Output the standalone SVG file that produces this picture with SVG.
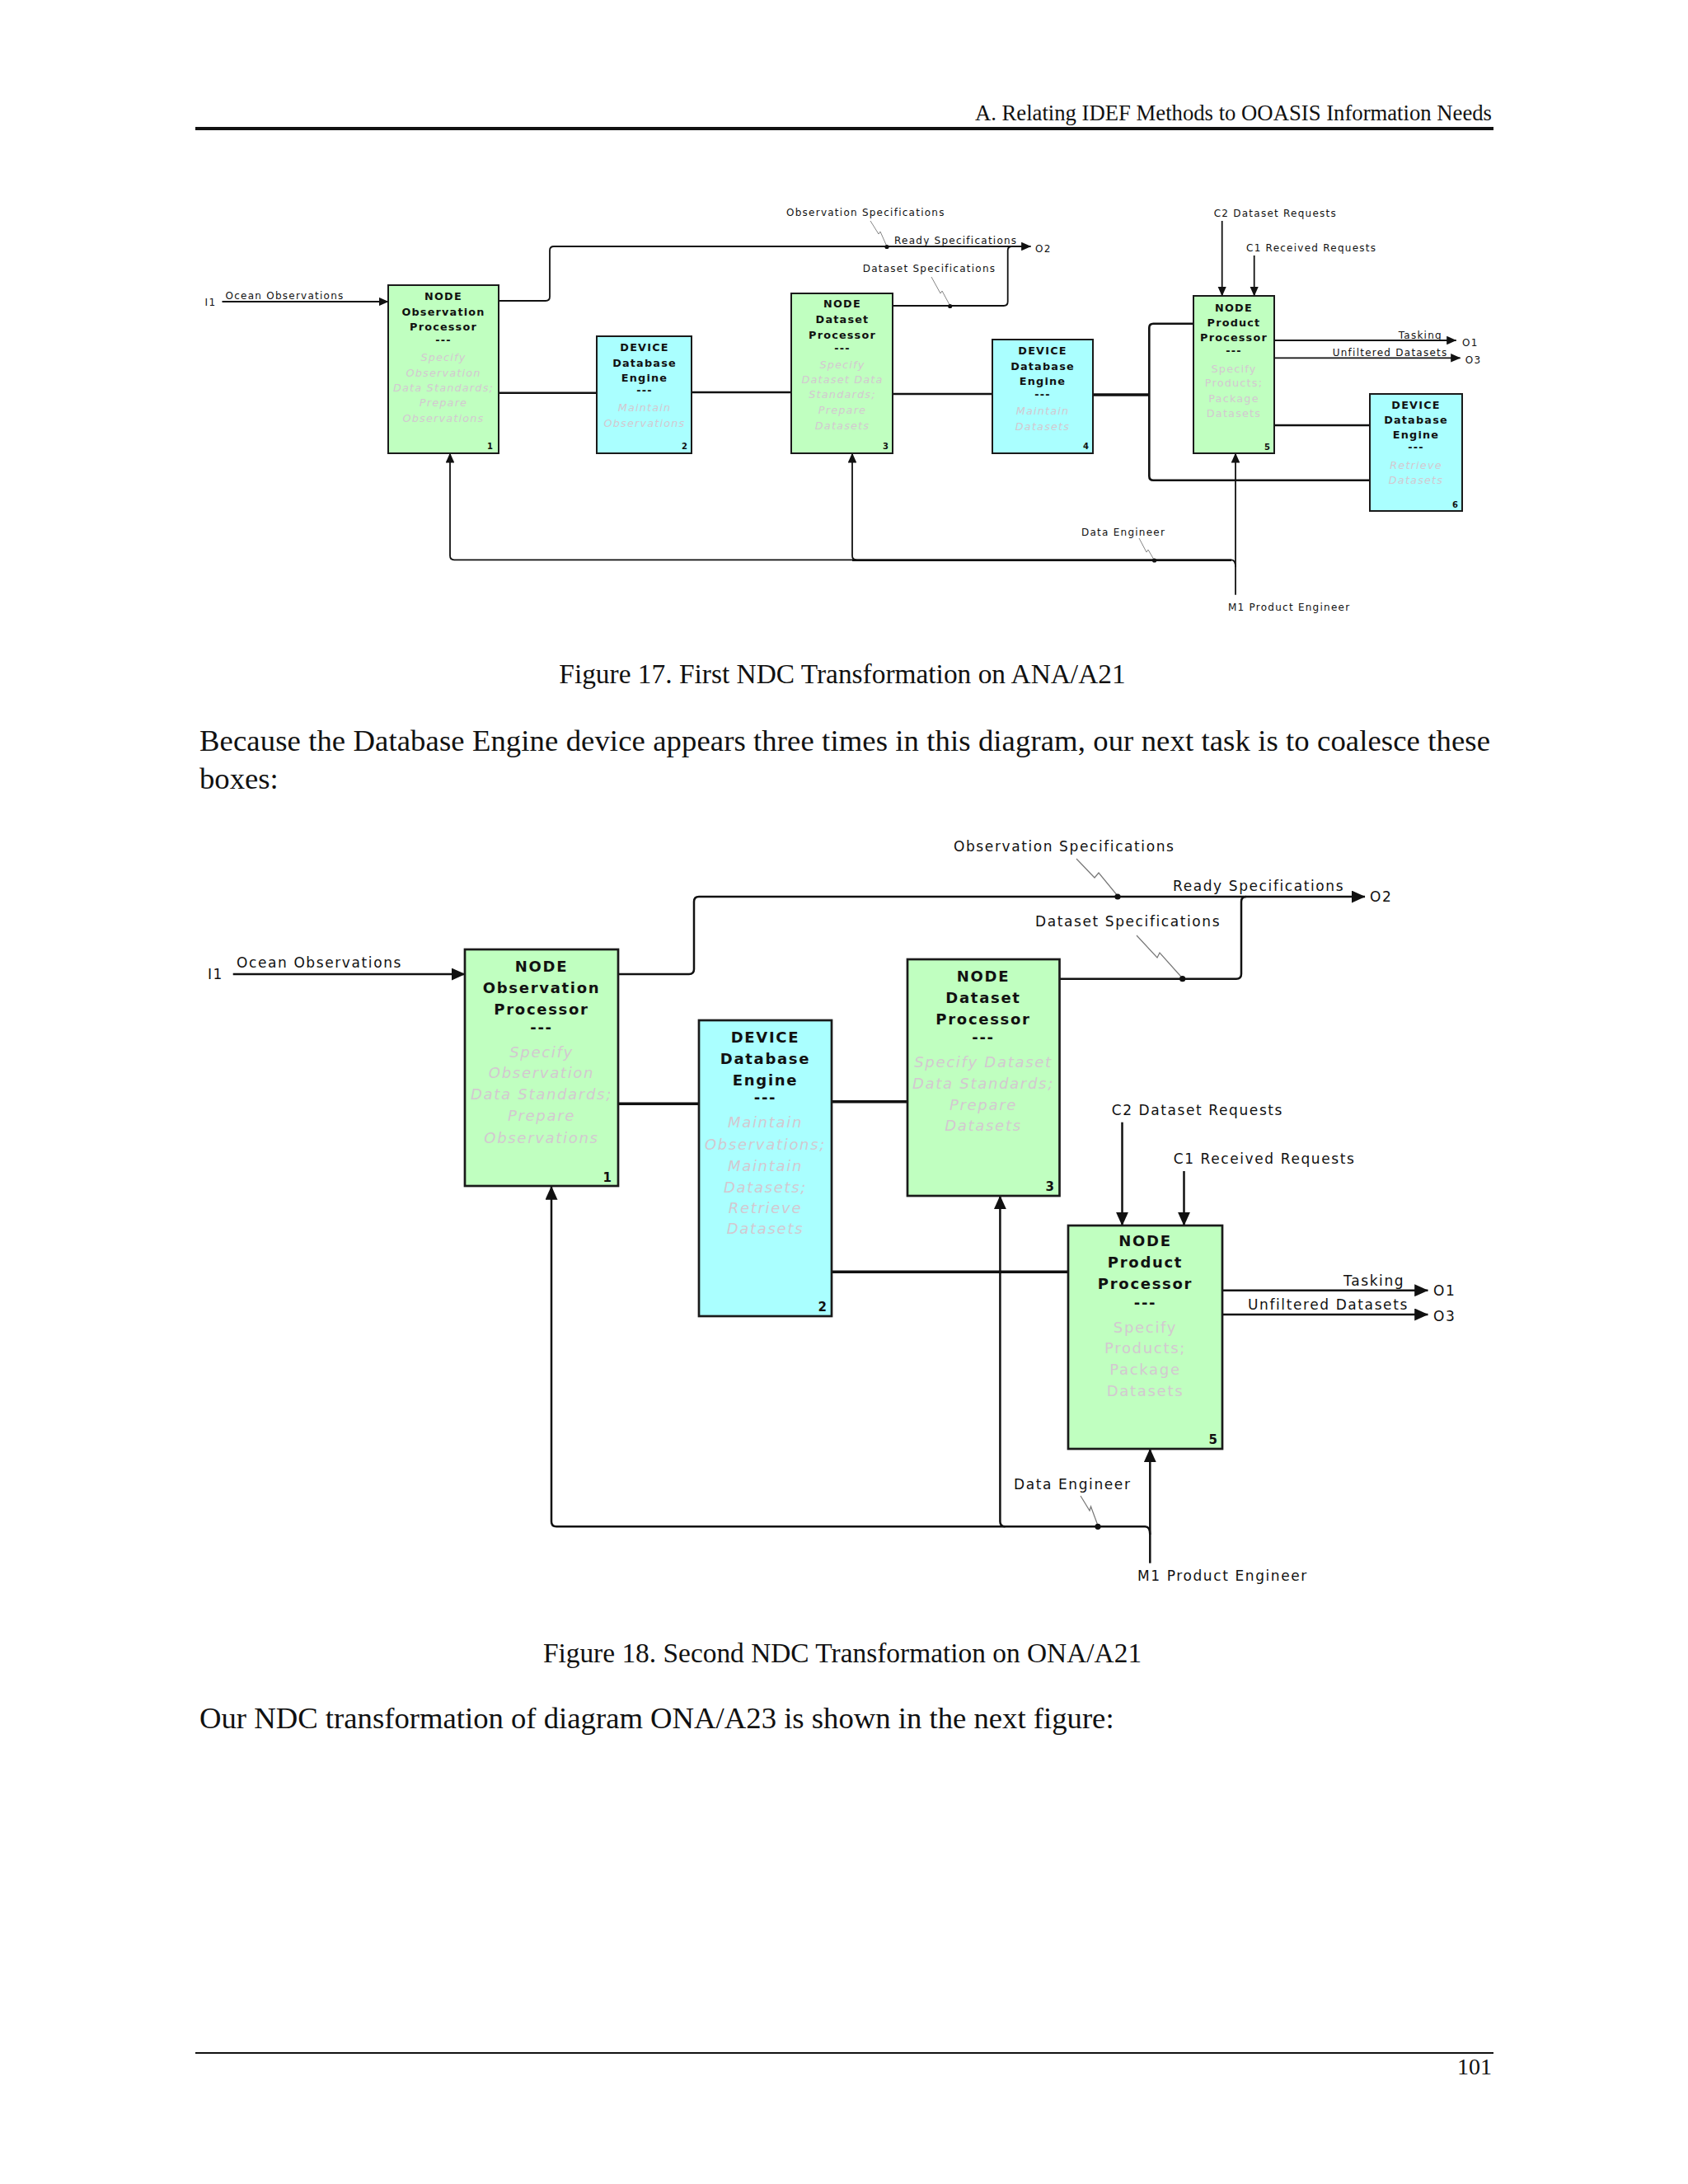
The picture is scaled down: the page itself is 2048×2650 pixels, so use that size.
<svg xmlns="http://www.w3.org/2000/svg" width="2048" height="2650" viewBox="0 0 2048 2650">
<style>
.pg{font-family:"Liberation Serif","Times New Roman",serif;fill:#111}
.lb1{font-family:"DejaVu Sans",Verdana,sans-serif;font-size:12px;letter-spacing:1.25px;fill:#111}
.lb2{font-family:"DejaVu Sans",Verdana,sans-serif;font-size:17px;letter-spacing:1.6px;fill:#111}
.t1{font-family:"DejaVu Sans",Verdana,sans-serif;font-size:12.8px;font-weight:bold;letter-spacing:1.2px;fill:#111;text-anchor:middle}
.t2{font-family:"DejaVu Sans",Verdana,sans-serif;font-size:18px;font-weight:bold;letter-spacing:1.7px;fill:#111;text-anchor:middle}
.d1{font-family:"DejaVu Sans",Verdana,sans-serif;font-size:12.8px;font-style:italic;letter-spacing:1.2px;fill:#d3c8d0;text-anchor:middle}
.d2{font-family:"DejaVu Sans",Verdana,sans-serif;font-size:18px;font-style:italic;letter-spacing:1.7px;fill:#d3c8d0;text-anchor:middle}
.up{font-style:normal}
.n1{font-family:"DejaVu Sans",Verdana,sans-serif;font-size:10px;font-weight:bold;fill:#111;text-anchor:end}
.n2{font-family:"DejaVu Sans",Verdana,sans-serif;font-size:15px;font-weight:bold;fill:#111;text-anchor:end}
.node{fill:#c0ffc0}
.dev{fill:#aaffff}
.b1{stroke:#1a1a1a;stroke-width:2}
.b2{stroke:#1a1a1a;stroke-width:2.7}
.f1{fill:none;stroke:#111;stroke-width:1.8}
.f2{fill:none;stroke:#111;stroke-width:2.5}
.c1{fill:none;stroke:#111;stroke-width:2.6}
.c2{fill:none;stroke:#111;stroke-width:3.6}
.sq1{fill:none;stroke:#777;stroke-width:0.9}
.sq2{fill:none;stroke:#777;stroke-width:1.2}
.dot{fill:#111}
</style>
<defs>
<marker id="a1" viewBox="0 0 12 10.6" refX="11.5" refY="5.3" markerWidth="12" markerHeight="10.6" markerUnits="userSpaceOnUse" orient="auto"><path d="M0,0 L12,5.3 L0,10.6 z" fill="#111"/></marker>
<marker id="a2" viewBox="0 0 16.7 15" refX="16.2" refY="7.5" markerWidth="16.7" markerHeight="15" markerUnits="userSpaceOnUse" orient="auto"><path d="M0,0 L16.7,7.5 L0,15 z" fill="#111"/></marker>
</defs>
<rect width="2048" height="2650" fill="#fff"/>

<g id="page">
<text class="pg" x="1810" y="146" font-size="26.7" text-anchor="end">A. Relating IDEF Methods to OOASIS Information Needs</text>
<rect x="237" y="154" width="1575" height="4" fill="#111"/>
<text class="pg" x="1022" y="829" font-size="33.4" text-anchor="middle">Figure 17. First NDC Transformation on ANA/A21</text>
<text class="pg" x="242" y="911" font-size="36.7" textLength="1566" lengthAdjust="spacing">Because the Database Engine device appears three times in this diagram, our next task is to coalesce these</text>
<text class="pg" x="242" y="957" font-size="36.7">boxes:</text>
<text class="pg" x="1022" y="2017" font-size="33.4" text-anchor="middle">Figure 18. Second NDC Transformation on ONA/A21</text>
<text class="pg" x="242" y="2097" font-size="36.7">Our NDC transformation of diagram ONA/A23 is shown in the next figure:</text>
<rect x="237" y="2490" width="1575" height="2" fill="#111"/>
<text class="pg" x="1810" y="2517" font-size="28" text-anchor="end">101</text>
</g>

<!-- ===== Figure 17 ===== -->
<g id="fig17-connectors">
<path class="f1" d="M269.5,366 H471" marker-end="url(#a1)"/>
<path class="f1" d="M604,365 H662 Q667,365 667,360 V304 Q667,299 672,299 H1250.6" marker-end="url(#a1)"/>
<path class="f1" d="M1083,371 H1217.7 Q1222.7,371 1222.7,366 V304 Q1222.7,299 1227.7,299"/>
<path class="c1" d="M604,476.7 H724"/>
<path class="c1" d="M839,476 H960"/>
<path class="c1" d="M1083,478 H1204"/>
<path class="c2" d="M1326,479 H1394.3"/>
<path class="c1" d="M1448,392.7 H1399.3 Q1394.3,392.7 1394.3,397.7 V577.7 Q1394.3,582.7 1399.3,582.7 H1662"/>
<path class="c1" d="M1546,516 H1662"/>
<path class="f1" d="M1482.7,268 V359" marker-end="url(#a1)"/>
<path class="f1" d="M1521.7,310 V359" marker-end="url(#a1)"/>
<path class="f1" d="M1546,413 H1766.7" marker-end="url(#a1)"/>
<path class="f1" d="M1546,434.3 H1771.7" marker-end="url(#a1)"/>
<path class="f1" d="M1499,721.7 V550" marker-end="url(#a1)"/>
<path class="f1" d="M1499,688 Q1499,679.3 1494,679.3 H551 Q546,679.3 546,674.3 V550" marker-end="url(#a1)"/>
<path class="f1" d="M1039,679.3 Q1034,679.3 1034,674.3 V550" marker-end="url(#a1)"/>
<path class="c1" d="M1034,679.8 H1494"/>
<path class="sq1" d="M1056,268 L1066,284 L1068,281 L1076,299"/>
<circle class="dot" cx="1076" cy="299.5" r="2.6"/>
<path class="sq1" d="M1130,336 L1141,356 L1143,353 L1152.7,371"/>
<circle class="dot" cx="1152.7" cy="371.5" r="2.6"/>
<path class="sq1" d="M1382,653 L1391,670 L1393,667 L1400.6,680"/>
<circle class="dot" cx="1400.6" cy="680" r="2.6"/>
<text class="lb1" x="248.6" y="371">I1</text>
<text class="lb1" x="273.5" y="362.7">Ocean Observations</text>
<text class="lb1" x="954" y="262">Observation Specifications</text>
<text class="lb1" x="1085" y="295.7">Ready Specifications</text>
<text class="lb1" x="1256" y="306">O2</text>
<text class="lb1" x="1046.7" y="330">Dataset Specifications</text>
<text class="lb1" x="1472.7" y="263.3">C2 Dataset Requests</text>
<text class="lb1" x="1512" y="305">C1 Received Requests</text>
<text class="lb1" x="1696.7" y="411">Tasking</text>
<text class="lb1" x="1774" y="420">O1</text>
<text class="lb1" x="1616.7" y="431.7">Unfiltered Datasets</text>
<text class="lb1" x="1777.7" y="441">O3</text>
<text class="lb1" x="1312" y="650">Data Engineer</text>
<text class="lb1" x="1490" y="740.7">M1 Product Engineer</text>
</g>

<g id="f17-box1">
<rect class="node b1" x="471" y="346" width="134" height="204"/>
<text class="t1"><tspan x="538" y="364">NODE</tspan><tspan x="538" y="382.7">Observation</tspan><tspan x="538" y="401">Processor</tspan><tspan x="538" y="416.7">---</tspan></text>
<text class="d1"><tspan x="538" y="438">Specify</tspan><tspan x="538" y="456.7">Observation</tspan><tspan x="538" y="475">Data Standards;</tspan><tspan x="538" y="493">Prepare</tspan><tspan x="538" y="511.7">Observations</tspan></text>
<text class="n1" x="598" y="545">1</text>
</g>
<g id="f17-box2">
<rect class="dev b1" x="724" y="408" width="115" height="142"/>
<text class="t1"><tspan x="782" y="426">DEVICE</tspan><tspan x="782" y="445">Database</tspan><tspan x="782" y="463.3">Engine</tspan><tspan x="782" y="478">---</tspan></text>
<text class="d1"><tspan x="782" y="499.3">Maintain</tspan><tspan x="782" y="517.7">Observations</tspan></text>
<text class="n1" x="834" y="545">2</text>
</g>
<g id="f17-box3">
<rect class="node b1" x="960" y="356" width="123" height="194"/>
<text class="t1"><tspan x="1022" y="373.3">NODE</tspan><tspan x="1022" y="392.3">Dataset</tspan><tspan x="1022" y="410.7">Processor</tspan><tspan x="1022" y="426.7">---</tspan></text>
<text class="d1"><tspan x="1022" y="446.7">Specify</tspan><tspan x="1022" y="465.3">Dataset Data</tspan><tspan x="1022" y="483.3">Standards;</tspan><tspan x="1022" y="502">Prepare</tspan><tspan x="1022" y="520.7">Datasets</tspan></text>
<text class="n1" x="1078" y="545">3</text>
</g>
<g id="f17-box4">
<rect class="dev b1" x="1204" y="412" width="122" height="138"/>
<text class="t1"><tspan x="1265" y="430">DEVICE</tspan><tspan x="1265" y="449">Database</tspan><tspan x="1265" y="467">Engine</tspan><tspan x="1265" y="483.3">---</tspan></text>
<text class="d1"><tspan x="1265" y="503.3">Maintain</tspan><tspan x="1265" y="521.7">Datasets</tspan></text>
<text class="n1" x="1321" y="545">4</text>
</g>
<g id="f17-box5">
<rect class="node b1" x="1448" y="359" width="98" height="191"/>
<text class="t1"><tspan x="1497" y="377.7">NODE</tspan><tspan x="1497" y="395.7">Product</tspan><tspan x="1497" y="414">Processor</tspan><tspan x="1497" y="430">---</tspan></text>
<text class="d1 up"><tspan x="1497" y="451.7">Specify</tspan><tspan x="1497" y="469.3">Products;</tspan><tspan x="1497" y="487.7">Package</tspan><tspan x="1497" y="506">Datasets</tspan></text>
<text class="n1" x="1541" y="545.7">5</text>
</g>
<g id="f17-box6">
<rect class="dev b1" x="1662" y="478" width="112" height="142"/>
<text class="t1"><tspan x="1718" y="495.7">DEVICE</tspan><tspan x="1718" y="514">Database</tspan><tspan x="1718" y="532.3">Engine</tspan><tspan x="1718" y="547.3">---</tspan></text>
<text class="d1"><tspan x="1718" y="569">Retrieve</tspan><tspan x="1718" y="587.3">Datasets</tspan></text>
<text class="n1" x="1769" y="616">6</text>
</g>

<!-- ===== Figure 18 ===== -->
<g id="fig18-connectors">
<path class="f2" d="M282.7,1182 H564" marker-end="url(#a2)"/>
<path class="f2" d="M750,1182 H836 Q842,1182 842,1176 V1094 Q842,1088 848,1088 H1656" marker-end="url(#a2)"/>
<path class="f2" d="M1285,1187.7 H1500 Q1506,1187.7 1506,1181.7 V1094 Q1506,1088 1512,1088"/>
<path class="c2" d="M750,1339.3 H848"/>
<path class="c2" d="M1009,1336.7 H1101"/>
<path class="c2" d="M1009,1543.3 H1296"/>
<path class="f2" d="M1361.5,1361.7 V1487" marker-end="url(#a2)"/>
<path class="f2" d="M1436.5,1421 V1487" marker-end="url(#a2)"/>
<path class="f2" d="M1483,1565.7 H1732.4" marker-end="url(#a2)"/>
<path class="f2" d="M1483,1595 H1732.4" marker-end="url(#a2)"/>
<path class="f2" d="M1395.3,1896.7 V1758" marker-end="url(#a2)"/>
<path class="f2" d="M1395.3,1862 Q1395.3,1852.3 1389.3,1852.3 H675 Q669,1852.3 669,1846.3 V1439.5" marker-end="url(#a2)"/>
<path class="f2" d="M1219.4,1852.3 Q1213.4,1852.3 1213.4,1846.3 V1451" marker-end="url(#a2)"/>
<path class="sq2" d="M1306,1042 L1328,1065 L1333,1059 L1356,1087"/>
<circle class="dot" cx="1356" cy="1088" r="3.6"/>
<path class="sq2" d="M1379,1135 L1404,1162 L1407,1156 L1434.7,1187"/>
<circle class="dot" cx="1434.7" cy="1187.7" r="3.6"/>
<path class="sq2" d="M1311,1815 L1322,1833 L1323.5,1828 L1332,1851"/>
<circle class="dot" cx="1332" cy="1852.3" r="3.6"/>
<text class="lb2" x="252" y="1187.7">I1</text>
<text class="lb2" x="287" y="1174">Ocean Observations</text>
<text class="lb2" x="1157" y="1033.3">Observation Specifications</text>
<text class="lb2" x="1423" y="1080.7">Ready Specifications</text>
<text class="lb2" x="1662" y="1094">O2</text>
<text class="lb2" x="1256" y="1124.3">Dataset Specifications</text>
<text class="lb2" x="1348.7" y="1352.7">C2 Dataset Requests</text>
<text class="lb2" x="1423.7" y="1412.3">C1 Received Requests</text>
<text class="lb2" x="1630" y="1560">Tasking</text>
<text class="lb2" x="1739" y="1572.3">O1</text>
<text class="lb2" x="1514" y="1589">Unfiltered Datasets</text>
<text class="lb2" x="1739" y="1602.7">O3</text>
<text class="lb2" x="1230" y="1806.7">Data Engineer</text>
<text class="lb2" x="1380" y="1918.3">M1 Product Engineer</text>
</g>

<g id="f18-box1">
<rect class="node b2" x="564" y="1152" width="186" height="287"/>
<text class="t2"><tspan x="657" y="1179">NODE</tspan><tspan x="657" y="1205">Observation</tspan><tspan x="657" y="1231">Processor</tspan><tspan x="657" y="1253.3">---</tspan></text>
<text class="d2"><tspan x="657" y="1283.3">Specify</tspan><tspan x="657" y="1308.3">Observation</tspan><tspan x="657" y="1334.3">Data Standards;</tspan><tspan x="657" y="1360">Prepare</tspan><tspan x="657" y="1386.7">Observations</tspan></text>
<text class="n2" x="742" y="1434">1</text>
</g>
<g id="f18-box2">
<rect class="dev b2" x="848" y="1238" width="161" height="359"/>
<text class="t2"><tspan x="928.5" y="1265">DEVICE</tspan><tspan x="928.5" y="1291">Database</tspan><tspan x="928.5" y="1316.7">Engine</tspan><tspan x="928.5" y="1338.3">---</tspan></text>
<text class="d2"><tspan x="928.5" y="1368.3">Maintain</tspan><tspan x="928.5" y="1395">Observations;</tspan><tspan x="928.5" y="1420.7">Maintain</tspan><tspan x="928.5" y="1446.7">Datasets;</tspan><tspan x="928.5" y="1471.7">Retrieve</tspan><tspan x="928.5" y="1497.3">Datasets</tspan></text>
<text class="n2" x="1003" y="1591">2</text>
</g>
<g id="f18-box3">
<rect class="node b2" x="1101" y="1164" width="184.5" height="287"/>
<text class="t2"><tspan x="1193" y="1190.7">NODE</tspan><tspan x="1193" y="1216.7">Dataset</tspan><tspan x="1193" y="1242.7">Processor</tspan><tspan x="1193" y="1265">---</tspan></text>
<text class="d2"><tspan x="1193" y="1295">Specify Dataset</tspan><tspan x="1193" y="1321">Data Standards;</tspan><tspan x="1193" y="1346.7">Prepare</tspan><tspan x="1193" y="1372.3">Datasets</tspan></text>
<text class="n2" x="1279" y="1445">3</text>
</g>
<g id="f18-box5">
<rect class="node b2" x="1296" y="1487" width="187" height="271"/>
<text class="t2"><tspan x="1389.5" y="1511.7">NODE</tspan><tspan x="1389.5" y="1538.3">Product</tspan><tspan x="1389.5" y="1564.3">Processor</tspan><tspan x="1389.5" y="1586.7">---</tspan></text>
<text class="d2 up"><tspan x="1389.5" y="1616.7">Specify</tspan><tspan x="1389.5" y="1642.3">Products;</tspan><tspan x="1389.5" y="1668.3">Package</tspan><tspan x="1389.5" y="1694.3">Datasets</tspan></text>
<text class="n2" x="1477" y="1751.7">5</text>
</g>
</svg>
